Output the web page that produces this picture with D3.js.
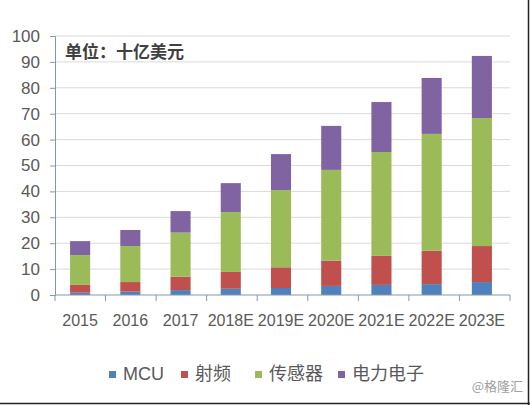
<!DOCTYPE html>
<html>
<head>
<meta charset="utf-8">
<script src="https://cdn.jsdelivr.net/npm/d3@7"></script>
<style>
  body { margin: 0; background: #fff; }
  svg { display: block; }
</style>
</head>
<body>
<div id="chart"></div>
<script>
// Categories & series (十亿美元)
const years = ["2015","2016","2017","2018E","2019E","2020E","2021E","2022E","2023E"];
const seriesNames = ["MCU","射频","传感器","电力电子"];
const mcu    = [0.9, 1.3, 1.9, 2.4, 2.7, 3.5, 3.9, 4.2, 5.0];
const rf     = [3.0, 3.7, 5.2, 6.5, 8.0, 9.8, 11.2, 12.9, 13.9];
const sensor = [11.5, 13.9, 17.0, 23.1, 29.8, 35.0, 40.1, 45.1, 49.4];
const power  = [5.4, 6.2, 8.3, 11.2, 13.9, 17.0, 19.3, 21.6, 24.0];
const yTicks = [0,10,20,30,40,50,60,70,80,90,100];

const colors = ["#4f81bd","#c0504d","#9bbb59","#8064a2"];
const font = "'Liberation Sans', Arial, 'Noto Sans CJK SC', sans-serif";

const width = 530, height = 405;
const margin = {top: 36, left: 55, right: 20, bottom: 110};

const svg = d3.select("#chart").append("svg")
  .attr("width", width).attr("height", height);

// table for stacking
const table = years.map((y,i) => ({year:y, MCU:mcu[i], "射频":rf[i], "传感器":sensor[i], "电力电子":power[i]}));
const stacked = d3.stack().keys(seriesNames)(table);

const x = d3.scaleBand().domain(years)
  .range([margin.left, width - margin.right - 3]).paddingInner(0.6).paddingOuter(0.3);
const y = d3.scaleLinear().domain([0,100]).range([height - margin.bottom, margin.top]);

// grid lines
svg.append("g")
  .selectAll("line").data(yTicks.slice(1)).join("line")
  .attr("x1", margin.left).attr("x2", width - margin.right)
  .attr("y1", d => y(d)).attr("y2", d => y(d))
  .attr("stroke", "#d9d9d9").attr("stroke-width", 1);

// y axis
const yAxis = svg.append("g")
  .attr("transform", `translate(${margin.left},0)`)
  .call(d3.axisLeft(y).tickValues(yTicks).tickSize(5).tickPadding(10));
yAxis.select(".domain").attr("stroke", "#8497b0");
yAxis.selectAll(".tick line").attr("stroke", "#8497b0");
yAxis.selectAll("text")
  .attr("fill", "#595959").style("font-size", "17px").style("font-family", font);

// bars
svg.append("g")
  .selectAll("g").data(stacked).join("g")
  .attr("fill", (d,i) => colors[i])
  .selectAll("rect").data(d => d).join("rect")
  .attr("x", d => x(d.data.year))
  .attr("width", x.bandwidth())
  .attr("y", d => y(d[1]))
  .attr("height", d => y(d[0]) - y(d[1]));

// x axis, ticks between categories
const xg = svg.append("g").attr("transform", `translate(0,${y(0)})`);
xg.append("line")
  .attr("x1", margin.left).attr("x2", width - margin.right)
  .attr("stroke", "#8497b0");
const cat = (width - margin.right - margin.left) / years.length;
xg.selectAll("line.tk").data(d3.range(years.length + 1)).join("line")
  .attr("class","tk")
  .attr("x1", i => margin.left + i * cat)
  .attr("x2", i => margin.left + i * cat)
  .attr("y1", 0).attr("y2", 6)
  .attr("stroke", "#8497b0");
xg.selectAll("text").data(years).join("text")
  .attr("x", d => x(d) + x.bandwidth() / 2)
  .attr("y", 31)
  .attr("text-anchor", "middle")
  .attr("fill", "#595959")
  .style("font-size", "16px").style("font-family", font)
  .text(d => d);

// unit label
svg.append("text")
  .attr("x", 65).attr("y", 58)
  .attr("fill", "#404040")
  .style("font-size", "17px").style("font-weight", "bold")
  .style("font-family", "'Noto Sans CJK SC', sans-serif")
  .text("单位：十亿美元");

// legend
const legendX = [109, 181, 255, 338];
const lg = svg.append("g").selectAll("g").data(seriesNames).join("g")
  .attr("transform", (d,i) => `translate(${legendX[i]},371)`);
lg.append("rect").attr("width", 7).attr("height", 7)
  .attr("fill", (d,i) => colors[i]);
lg.append("text")
  .attr("x", 14).attr("y", 9)
  .attr("fill", "#595959")
  .style("font-size", "18px").style("font-family", font)
  .text(d => d);

// watermark
svg.append("text")
  .attr("x", 523).attr("y", 391)
  .attr("text-anchor", "end")
  .attr("fill", "#a0a0a0")
  .style("font-size", "13px").style("font-family", "'Noto Sans CJK SC', sans-serif")
  .text("@格隆汇");

// frame (right & bottom edge)
svg.append("line").attr("x1", 528.5).attr("x2", 528.5).attr("y1", 0).attr("y2", height)
  .attr("stroke", "#222").attr("stroke-width", 1.5);
svg.append("line").attr("x1", 0).attr("x2", width).attr("y1", 403.5).attr("y2", 403.5)
  .attr("stroke", "#222").attr("stroke-width", 1.5);
</script>
</body>
</html>
